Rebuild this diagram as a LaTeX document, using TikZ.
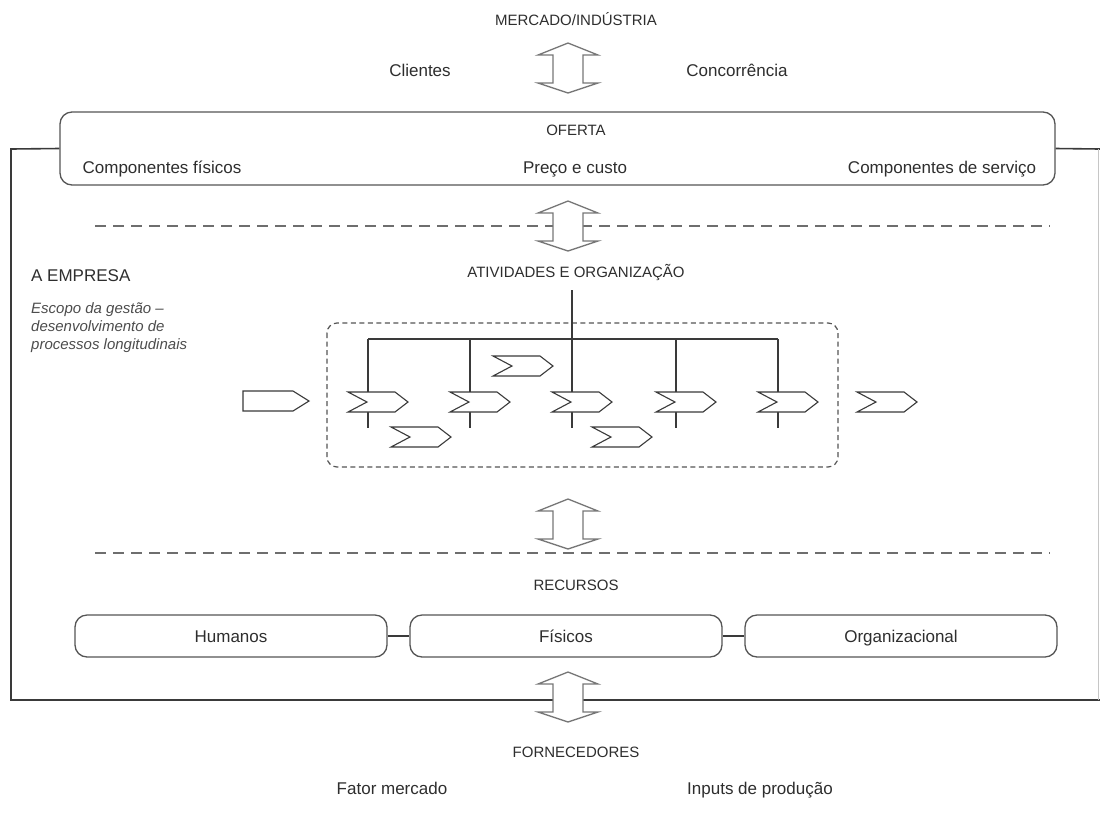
\documentclass[tikz,border=0pt]{standalone}
\usepackage{fontspec}
\setmainfont{Liberation Sans}
\begin{document}
\definecolor{ink}{HTML}{2E2E2E}
\definecolor{linec}{HTML}{3A3A3A}
\definecolor{boxc}{HTML}{555555}
\begin{tikzpicture}[x=1pt,y=-1pt,
  lbl/.style={text=ink, inner sep=0pt, text height=13pt, text depth=0pt,
    font=\fontsize{17}{19}\selectfont},
  title/.style={text=ink, inner sep=0pt, text height=10.8pt, text depth=0pt,
    font=\fontsize{15}{17}\selectfont},
  note/.style={text=ink!85, inner sep=0pt, font=\fontsize{15}{17}\selectfont\itshape, anchor=base west},
  frame/.style={draw=linec, line width=1.6pt},
  wire/.style={draw=linec, line width=1.4pt},
  roundbox/.style={draw=boxc, line width=1.3pt, rounded corners=12pt, inner sep=0pt},
  sep/.style={draw=boxc!85, line width=1.3pt, dash pattern=on 11pt off 7pt},
  dashbox/.style={draw=boxc, line width=1.2pt, dash pattern=on 5pt off 3.5pt, rounded corners=10pt},
  chevron/.pic={
    \path[draw=linec, fill=white, line width=1.1pt, line join=miter]
      (-30,-10) -- (17,-10) -- (30,0) -- (17,10) -- (-30,10) -- (-11,0) -- cycle;
    \node[inner sep=0pt, minimum width=60pt, minimum height=20pt] (-b) {};
  },
  plainarrow/.pic={
    \path[draw=linec, fill=white, line width=1.1pt]
      (-33,-10) -- (17,-10) -- (33,0) -- (17,10) -- (-33,10) -- cycle;
    \node[inner sep=0pt, minimum width=66pt, minimum height=20pt] (-b) {};
  },
  dblarrow/.pic={
    \path[draw=boxc!80, fill=white, line width=1.3pt]
      (0,-25) -- (30,-13) -- (15,-13) -- (15,15) -- (30,15) -- (0,25)
      -- (-30,15) -- (-15,15) -- (-15,-13) -- (-30,-13) -- cycle;
    \node[inner sep=0pt, minimum width=60pt, minimum height=50pt] (-b) {};
  }]
\useasboundingbox[fill=white] (0,0) rectangle (1100,815);

% market level
\node[title] (mercado) at (576,20) {MERCADO/INDÚSTRIA};
\node[lbl] (clientes) at (420,70) {Clientes};
\node[lbl] (concorrencia) at (737,70) {Concorrência};

% offer box
\node[roundbox, minimum width=995pt, minimum height=73pt] (oferta) at (557.5,148.5) {};
\node[title] (ofertaT) at (576,130) {OFERTA};
\node[lbl] (fisicosC) at (162,167) {Componentes físicos};
\node[lbl] (preco) at (575,167) {Preço e custo};
\node[lbl] (servico) at (942,167) {Componentes de serviço};

% company frame
\coordinate (ftl) at (11,149);
\coordinate (fbl) at (11,700);
\coordinate (fbr) at (1100,700);
\coordinate (ftr) at (1100,149);
\draw[frame] (oferta.west) -- (ftl) -- (fbl) -- (fbr);
\draw[frame] (oferta.east) -- (ftr);
\draw[draw=gray!45, line width=0.8pt] (1098,149) -- (1098,700);

% separators
\coordinate (s1a) at (95,226);  \coordinate (s1b) at (1050,226);
\coordinate (s2a) at (95,553);  \coordinate (s2b) at (1050,553);
\draw[sep] (s1a) -- (s1b);
\draw[sep] (s2a) -- (s2b);

% company labels
\node[lbl, anchor=west] (empresa) at (31,275) {A EMPRESA};
\node[note] (n1) at (31,313) {Escopo da gestão –};
\node[note] (n2) at (31,331) {desenvolvimento de};
\node[note] (n3) at (31,349) {processos longitudinais};
\node[title] (ativ) at (576,272) {ATIVIDADES E ORGANIZAÇÃO};

% activities and organisation
\draw[dashbox] (327,323) rectangle (838,467);
\coordinate (j1) at (368,339); \coordinate (t1) at (368,428);
\coordinate (j2) at (470,339); \coordinate (t2) at (470,428);
\coordinate (j3) at (572,339); \coordinate (t3) at (572,428);
\coordinate (j4) at (676,339); \coordinate (t4) at (676,428);
\coordinate (j5) at (778,339); \coordinate (t5) at (778,428);
\coordinate (top3) at (572,290);
\draw[wire] (j1) -- (j5);
\draw[wire] (top3) -- (t3);
\draw[wire] (j1) -- (t1);
\draw[wire] (j2) -- (t2);
\draw[wire] (j4) -- (t4);
\draw[wire] (j5) -- (t5);

\pic (c1) at (378,402) {chevron};
\pic (c2) at (480,402) {chevron};
\pic (c3) at (582,402) {chevron};
\pic (c4) at (686,402) {chevron};
\pic (c5) at (788,402) {chevron};
\pic (u1) at (523,366) {chevron};
\pic (d1) at (421,437) {chevron};
\pic (d2) at (622,437) {chevron};
\pic (cout) at (887,402) {chevron};
\pic (cin) at (276,401) {plainarrow};

% resources
\node[title] (recursos) at (576,585) {RECURSOS};
\node[roundbox, minimum width=312pt, minimum height=42pt] (hum) at (231,636) {};
\node[roundbox, minimum width=312pt, minimum height=42pt] (fis) at (566,636) {};
\node[roundbox, minimum width=312pt, minimum height=42pt] (org) at (901,636) {};
\node[lbl] at (hum) {Humanos};
\node[lbl] at (fis) {Físicos};
\node[lbl] at (org) {Organizacional};
\draw[wire, line width=1.2pt] (hum.east) -- (fis.west);
\draw[wire, line width=1.2pt] (fis.east) -- (org.west);

% exchange arrows
\pic (a1) at (568,68) {dblarrow};
\pic (a2) at (568,226) {dblarrow};
\pic (a3) at (568,524) {dblarrow};
\pic (a4) at (568,697) {dblarrow};

% suppliers
\node[title] (fornecedores) at (576,752) {FORNECEDORES};
\node[lbl] (fator) at (392,788) {Fator mercado};
\node[lbl] (inputs) at (760,788) {Inputs de produção};
\end{tikzpicture}
\end{document}
